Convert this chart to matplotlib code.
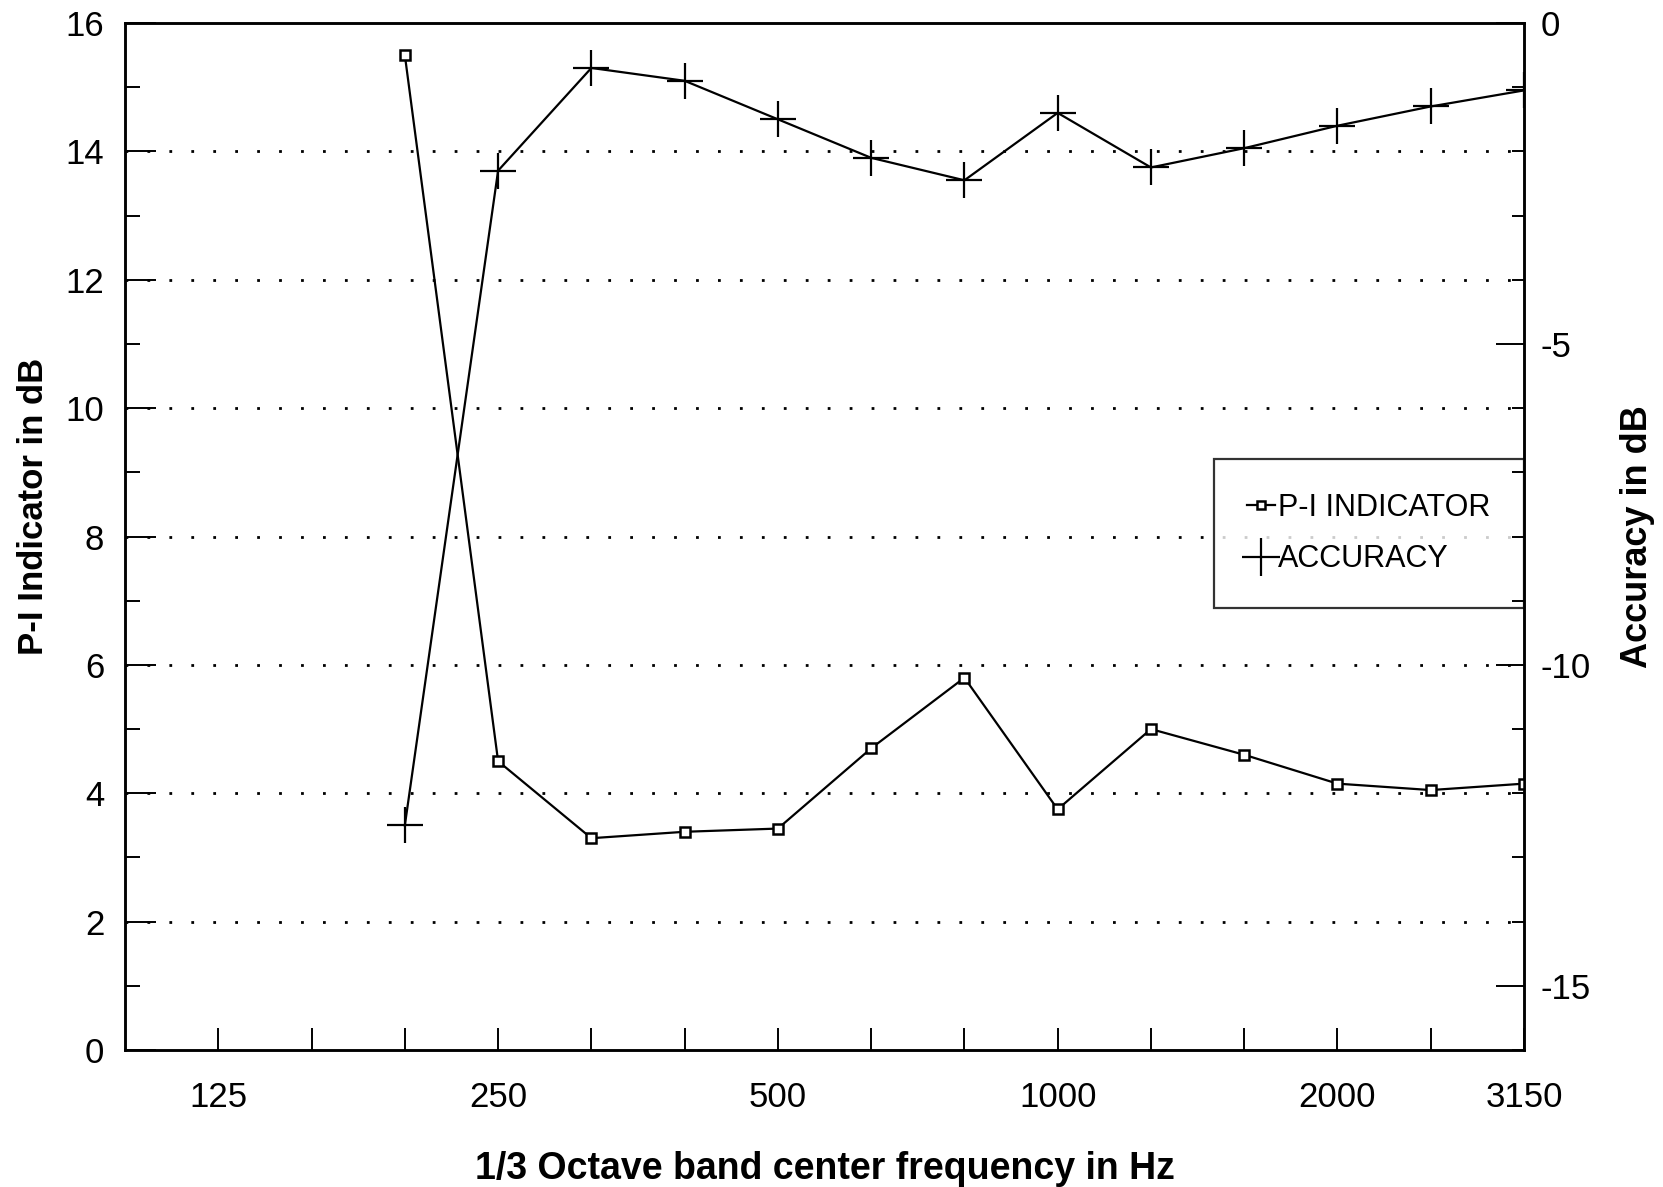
import matplotlib
matplotlib.use("Agg")
import matplotlib.pyplot as plt
import numpy as np
from matplotlib.ticker import FixedLocator, MultipleLocator

plt.rcParams['font.family'] = ['Liberation Sans', 'DejaVu Sans']
plt.rcParams['axes.unicode_minus'] = False

bands = ["100", "125", "160", "200", "250", "315", "400", "500", "630", "800",
         "1000", "1250", "1600", "2000", "2500", "3150"]
labelled_bands = ["125", "250", "500", "1000", "2000", "3150"]

data_bands = ["200", "250", "315", "400", "500", "630", "800", "1000", "1250",
              "1600", "2000", "2500", "3150"]
pi_indicator = [15.5, 4.5, 3.3, 3.4, 3.45, 4.7, 5.8, 3.75, 5.0, 4.6, 4.15, 4.05, 4.15]
accuracy = [-12.5, -2.3, -0.7, -0.9, -1.5, -2.1, -2.45, -1.4, -2.25, -1.95, -1.6, -1.3, -1.05]

fig = plt.figure(figsize=(16.63, 11.87), dpi=100)
ax = fig.add_axes([0.0752, 0.1154, 0.8412, 0.8652])
ax2 = ax.twinx()

xs = [bands.index(b) for b in data_bands]

ax.plot(xs, pi_indicator, color='black', lw=1.6, marker='s', ms=7,
        mfc='white', mec='black', mew=1.8, zorder=3)
ax2.plot(xs, accuracy, color='black', lw=1.6, marker='+', ms=26, mew=1.6,
         zorder=3)

ax.set_xlim(0, len(bands) - 1)
ax.set_ylim(0, 16)
ax2.set_ylim(-16, 0)

# grid lines
for y in range(2, 16, 2):
    ax.axhline(y, color='black', lw=2.0, ls=(0, (1, 6.9)), zorder=1)

# x ticks
ax.xaxis.set_major_locator(FixedLocator([bands.index(b) for b in labelled_bands]))
ax.set_xticklabels(labelled_bands)
ax.xaxis.set_minor_locator(FixedLocator(list(range(1, len(bands)))))
ax.tick_params(axis='x', which='both', direction='in', length=16, width=1.4,
               labelsize=25, pad=22, top=False)

ax.yaxis.set_major_locator(MultipleLocator(2))
ax.yaxis.set_minor_locator(MultipleLocator(1))
ax.tick_params(axis='y', which='major', direction='in', length=22, width=1.4,
               labelsize=25, pad=15, right=False)
ax.tick_params(axis='y', which='minor', direction='in', length=11, width=1.4,
               right=False)

ax2.yaxis.set_major_locator(MultipleLocator(5))
ax2.yaxis.set_minor_locator(MultipleLocator(1))
ax2.tick_params(axis='y', which='major', direction='in', length=20, width=1.4,
                labelsize=25, pad=12)
ax2.tick_params(axis='y', which='minor', direction='in', length=9, width=1.4)

for a in (ax, ax2):
    for s in a.spines.values():
        s.set_linewidth(1.8)

ax.set_xlabel("1/3 Octave band center frequency in Hz", fontsize=27,
              fontweight='bold', labelpad=27)
ax.set_ylabel("P-I Indicator in dB", fontsize=25, fontweight='bold', labelpad=11)
ax.yaxis.label.set_y(0.529)
ax2.set_ylabel("Accuracy in dB", fontsize=26, fontweight='bold', labelpad=21)

# legend
h1, = ax.plot([], [], color='black', lw=1.6, marker='s', ms=6, mfc='white',
              mec='black', mew=1.8)
h2, = ax.plot([], [], color='black', lw=0, marker='+', ms=28, mew=1.6)
leg = ax.legend([h1, h2], ["P-I INDICATOR", "ACCURACY"], loc='upper right',
                bbox_to_anchor=(1.0, 0.575), fontsize=22, frameon=True,
                fancybox=False, edgecolor='black', handlelength=0.9,
                handletextpad=0.1, borderpad=1.1, labelspacing=0.7,
                borderaxespad=0)
leg.get_frame().set_linewidth(1.6)
leg.set_zorder(5)

fig.savefig("out.png", dpi=100, facecolor='white')
